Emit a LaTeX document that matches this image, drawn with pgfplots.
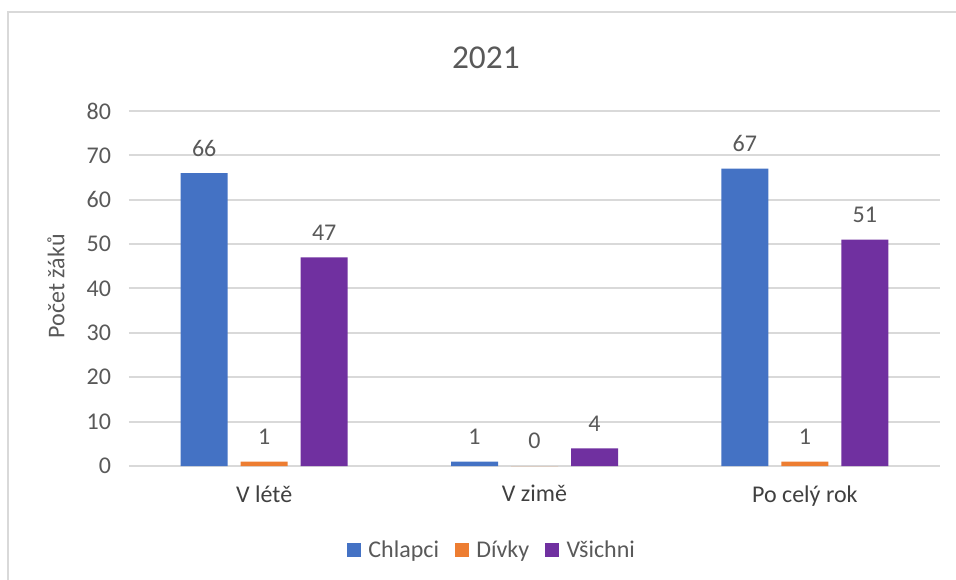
\documentclass[border=0pt]{standalone}
\usepackage{pgfplots}
\pgfplotsset{compat=1.18}
\usepackage{fontspec}
\setmainfont{Carlito}
\definecolor{cBlue}{HTML}{4472C4}
\definecolor{cOrange}{HTML}{ED7D31}
\definecolor{cPurple}{HTML}{7030A0}
\definecolor{cGrid}{HTML}{D9D9D9}
\definecolor{cText}{HTML}{595959}
\definecolor{cCat}{HTML}{404040}
\begin{document}
\begin{tikzpicture}
\path[use as bounding box] (0pt,0pt) rectangle (717pt,-435pt);
\draw[cGrid, line width=1.5pt] (6pt,-435pt) -- (6pt,-9pt) -- (717pt,-9pt);
\begin{axis}[
  at={(96.75pt,-349.5pt)}, anchor=south west,
  scale only axis, width=608.25pt, height=266.25pt,
  ybar=9.75pt, bar width=35.25pt,
  xmin=-0.5, xmax=2.5, ymin=0, ymax=80, ytick={0,10,...,80},
  xtick={0,1,2}, xticklabels={V létě, V zimě, Po celý rok},
  axis line style={draw=none},
  major tick length=0pt,
  ymajorgrids, major grid style={cGrid, line width=1.5pt},
  /pgf/number format/assume math mode=true,
  ticklabel style={font=\fontsize{18}{21}\selectfont},
  yticklabel style={color=cText, xshift=-10pt},
  xticklabel style={color=cCat, yshift=-11pt},
  clip=false,
  title={2021},
  title style={at={(axis description cs:0.44,1.128)}, anchor=center, font=\fontsize{25}{30}\selectfont, color=cText},
  ylabel={Počet žáků},
  ylabel style={at={(axis description cs:-0.09,0.506)}, anchor=center, font=\fontsize{18}{21}\selectfont, color=cText},
  nodes near coords,
  every node near coord/.append style={inner sep=0pt, yshift=12.5pt, font=\fontsize{18}{21}\selectfont, color=cText, /pgf/number format/assume math mode=true},
  legend columns=-1,
  legend style={at={(axis description cs:0.448,-0.237)}, anchor=center, draw=none, fill=none,
    font=\fontsize{18}{21}\selectfont, text=cText,
    /tikz/every odd column/.append style={column sep=3.5pt},
    /tikz/every even column/.append style={column sep=10pt}},
  legend image code/.code={\fill[#1] (0pt,-5.25pt) rectangle (10.5pt,5.25pt);},
]
\addplot[fill=cBlue, draw=none] coordinates {(0,66) (1,1) (2,67)};
\addplot[fill=cOrange, draw=none] coordinates {(0,1) (1,0) (2,1)};
\addplot[fill=cPurple, draw=none] coordinates {(0,47) (1,4) (2,51)};
\legend{Chlapci, Dívky, Všichni}
\end{axis}
\end{tikzpicture}
\end{document}
